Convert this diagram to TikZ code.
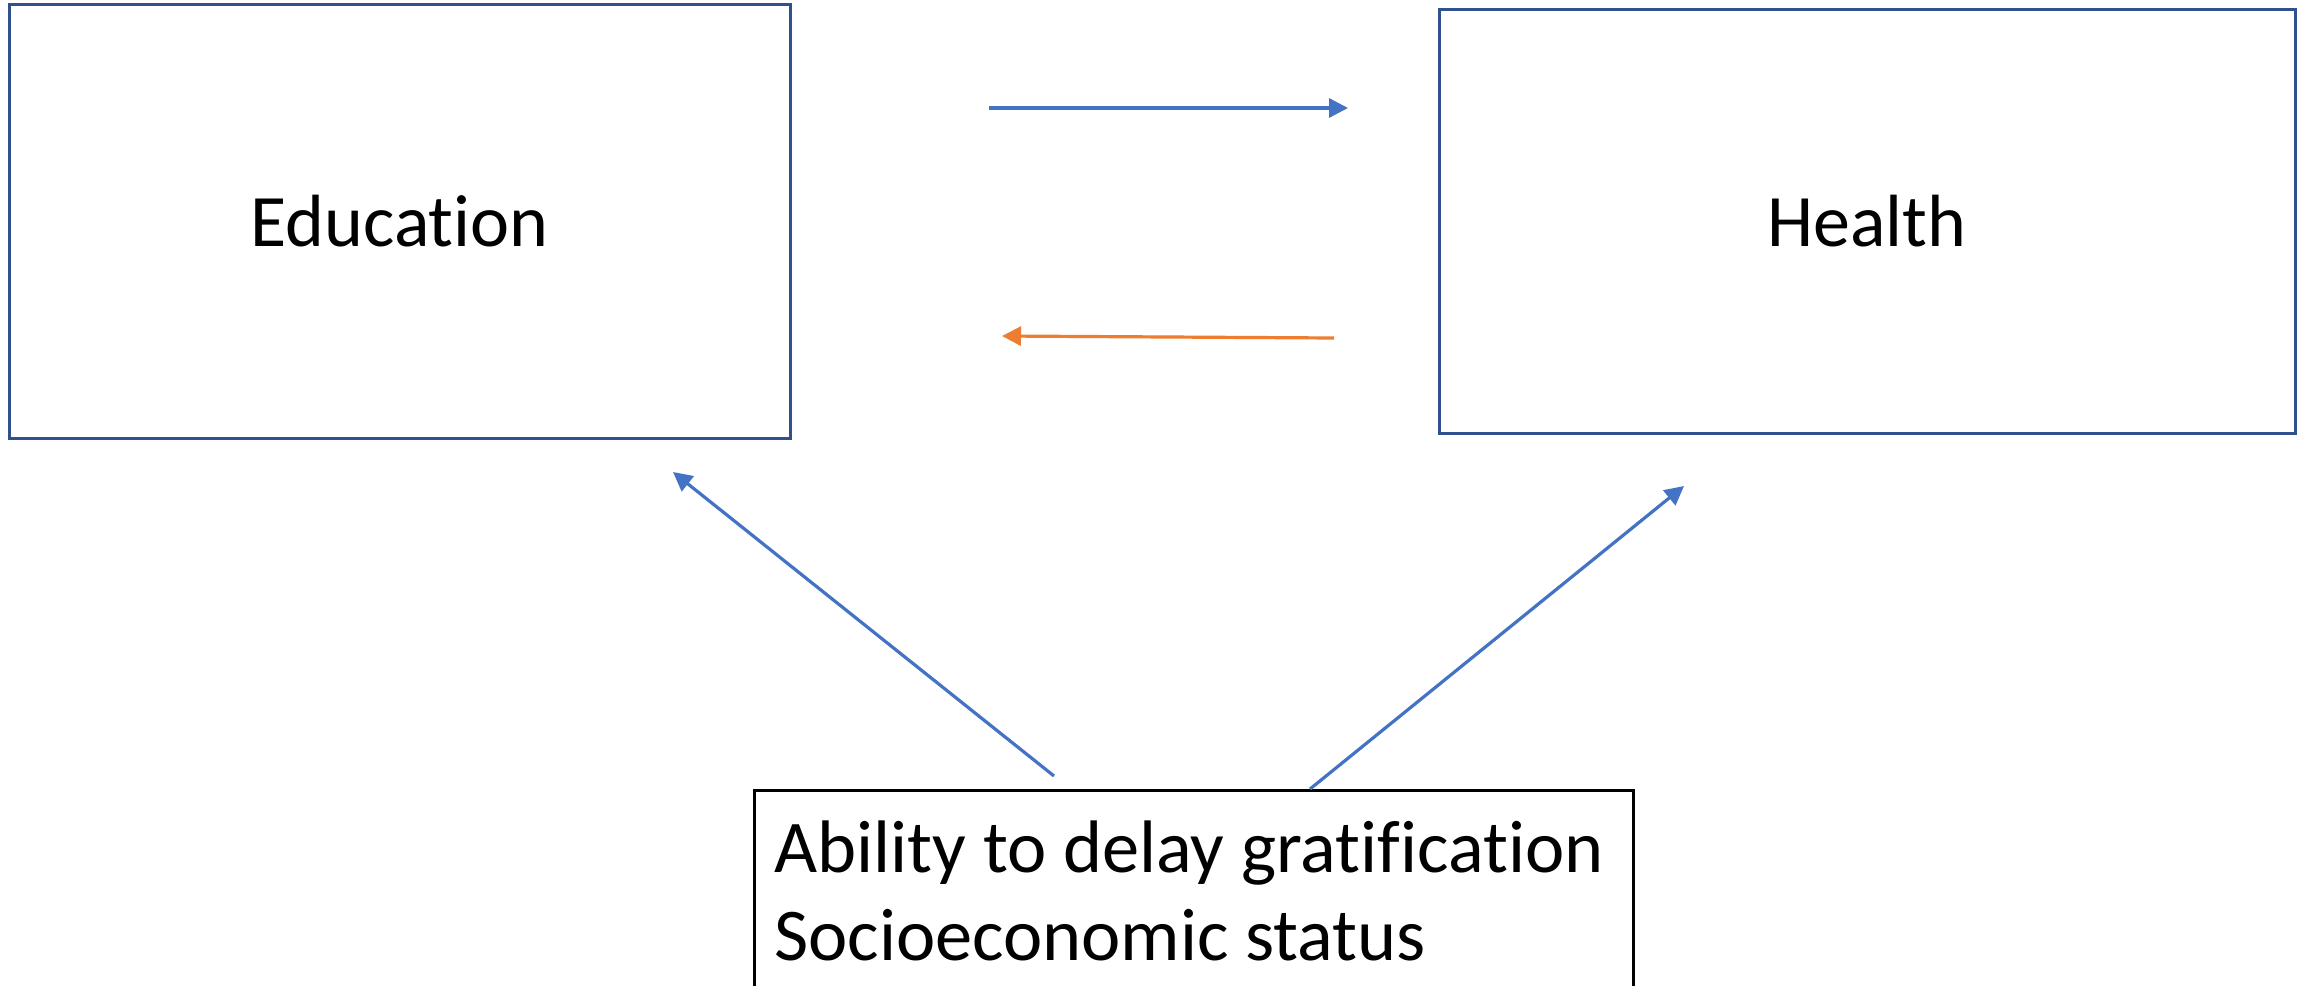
\documentclass[tikz,border=0pt]{standalone}
\usepackage{fontspec}
\setmainfont{Carlito}[RawFeature={-liga;-clig;-dlig}]
\usetikzlibrary{arrows.meta}
\definecolor{boxblue}{HTML}{2F528F}
\definecolor{arrblue}{HTML}{4472C4}
\definecolor{arrorange}{HTML}{ED7D31}
\tikzset{
  mainbox/.style={draw=boxblue, line width=1.5pt, rectangle, inner sep=0pt,
    font=\fontsize{37}{44}\selectfont},
  factorbox/.style={draw=black, line width=1.5pt, rectangle, inner sep=0pt},
  factortext/.style={inner sep=0pt, font=\fontsize{37.2}{44}\selectfont},
  linkarrow/.style={line width=1.6pt, -{Triangle[length=9.5pt,width=9.5pt]}},
}
\begin{document}
\begin{tikzpicture}[x=0.5pt,y=-0.5pt]
\useasboundingbox (0,0) rectangle (2312,985);
\clip (0,0) rectangle (2312,985);
\fill[white] (0,0) rectangle (2312,985);

\node[mainbox, minimum width=781*0.5pt, minimum height=434*0.5pt] (edu) at (399.5,221) {Education};
\node[mainbox, minimum width=856*0.5pt, minimum height=424*0.5pt] (health) at (1867,221) {Health};
\node[factorbox, anchor=north west, minimum width=879*0.5pt, minimum height=300*0.5pt] (factors) at (753,789) {};
\node[factortext, anchor=base west] (f1) at (774,872) {Ability to delay gratification};
\node[factortext, anchor=base west] (f2) at (774,960) {Socioeconomic status};

\coordinate (a1s) at (989,108);
\coordinate (a1e) at (1348,108);
\coordinate (a2s) at (1334,338);
\coordinate (a2e) at (1002,336);
\coordinate (a3s) at (1054,776);
\coordinate (a3e) at (673,472);
\coordinate (a4s) at (1310,789);
\coordinate (a4e) at (1684,486);

\draw[linkarrow, arrblue] (a1s) -- (a1e);
\draw[linkarrow, arrorange] (a2s) -- (a2e);
\draw[linkarrow, arrblue] (a3s) -- (a3e);
\draw[linkarrow, arrblue] (a4s) -- (a4e);
\end{tikzpicture}
\end{document}
